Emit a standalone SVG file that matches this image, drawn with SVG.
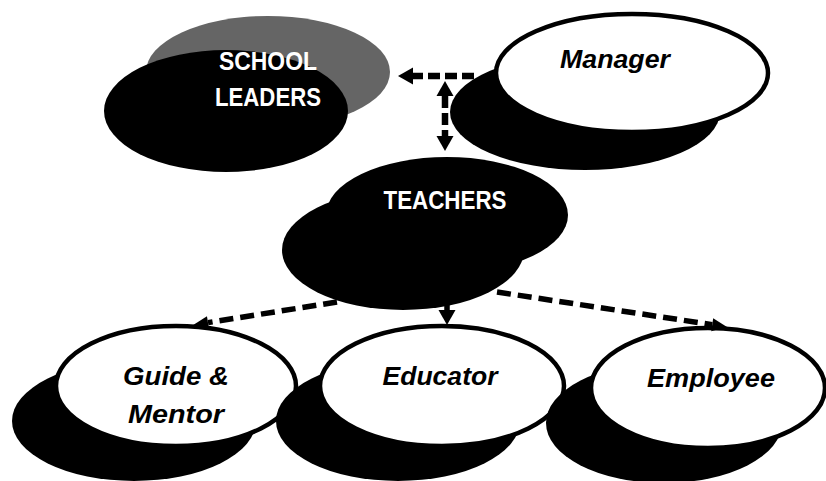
<svg xmlns="http://www.w3.org/2000/svg" width="826" height="481" viewBox="0 0 826 481">
  <style>
    .solid { fill: #000000; }
    .grey { fill: #656565; }
    .card { fill: #ffffff; stroke: #000000; stroke-width: 4.5; }
    .cap { font-family: "Liberation Sans", Arial, sans-serif; font-weight: bold; font-size: 26px; fill: #ffffff; text-anchor: middle; }
    .role { font-family: "Liberation Sans", Arial, sans-serif; font-weight: bold; font-style: italic; font-size: 26px; fill: #000000; text-anchor: middle; }
    .dash-top { fill: none; stroke: #000000; stroke-width: 6.5; stroke-dasharray: 12 5; }
    .dash-low { fill: none; stroke: #000000; stroke-width: 5.5; stroke-dasharray: 14 7; }
    .plain { fill: none; stroke: #000000; stroke-width: 5.5; }
  </style>
  <defs>
    <marker id="headBig" markerUnits="userSpaceOnUse" markerWidth="16" markerHeight="18" refX="0" refY="8.5" orient="auto-start-reverse" overflow="visible">
      <path d="M0,0 L15,8.5 L0,17 Z" fill="#000000"/>
    </marker>
    <marker id="headSmall" markerUnits="userSpaceOnUse" markerWidth="16" markerHeight="14" refX="0" refY="6.5" orient="auto" overflow="visible">
      <path d="M0,0 L15,6.5 L0,13 Z" fill="#000000"/>
    </marker>
  </defs>

  <g id="school-leaders">
    <ellipse class="grey" cx="268" cy="72" rx="122" ry="56"/>
    <ellipse class="solid" cx="226" cy="111" rx="122" ry="61"/>
    <text class="cap" x="268" y="70" textLength="98" lengthAdjust="spacingAndGlyphs">SCHOOL</text>
    <text class="cap" x="268" y="106" textLength="106" lengthAdjust="spacingAndGlyphs">LEADERS</text>
  </g>

  <g id="manager">
    <ellipse class="solid" cx="585" cy="112" rx="135" ry="58"/>
    <ellipse class="card" cx="632" cy="73" rx="136" ry="59"/>
    <text class="role" x="615" y="68" textLength="110" lengthAdjust="spacingAndGlyphs">Manager</text>
  </g>

  <g id="teachers">
    <ellipse class="solid" cx="447" cy="215" rx="121" ry="58"/>
    <ellipse class="solid" cx="403" cy="250" rx="121" ry="60"/>
    <text class="cap" x="445" y="209" textLength="123" lengthAdjust="spacingAndGlyphs">TEACHERS</text>
  </g>

  <g id="guide-mentor">
    <ellipse class="solid" cx="134" cy="421" rx="122" ry="60"/>
    <ellipse class="card" cx="176" cy="386" rx="120" ry="60"/>
    <text class="role" x="176" y="385" textLength="106" lengthAdjust="spacingAndGlyphs">Guide &amp;</text>
    <text class="role" x="176" y="423" textLength="96" lengthAdjust="spacingAndGlyphs">Mentor</text>
  </g>

  <g id="educator">
    <ellipse class="solid" cx="398" cy="421" rx="122" ry="60"/>
    <ellipse class="card" cx="442" cy="386" rx="122" ry="60"/>
    <text class="role" x="440" y="385" textLength="115" lengthAdjust="spacingAndGlyphs">Educator</text>
  </g>

  <g id="employee">
    <ellipse class="solid" cx="664" cy="423" rx="118" ry="60"/>
    <ellipse class="card" cx="708" cy="388" rx="117" ry="60"/>
    <text class="role" x="711" y="387" textLength="128" lengthAdjust="spacingAndGlyphs">Employee</text>
  </g>

  <g id="connectors">
    <!-- Manager to School Leaders -->
    <path class="dash-top" d="M474,76 L413,76" marker-end="url(#headBig)"/>
    <!-- two-way link between the top row and Teachers -->
    <path class="dash-top" d="M445,96 L445,136" marker-start="url(#headBig)" marker-end="url(#headBig)"/>
    <!-- Teachers to the three roles -->
    <path class="dash-low" d="M337,302 L208,322.6" marker-end="url(#headSmall)"/>
    <path class="plain" d="M447,300 L447,310" marker-end="url(#headBig)"/>
    <path class="dash-low" d="M497,292 L712.2,324.7" marker-end="url(#headSmall)"/>
  </g>
</svg>
